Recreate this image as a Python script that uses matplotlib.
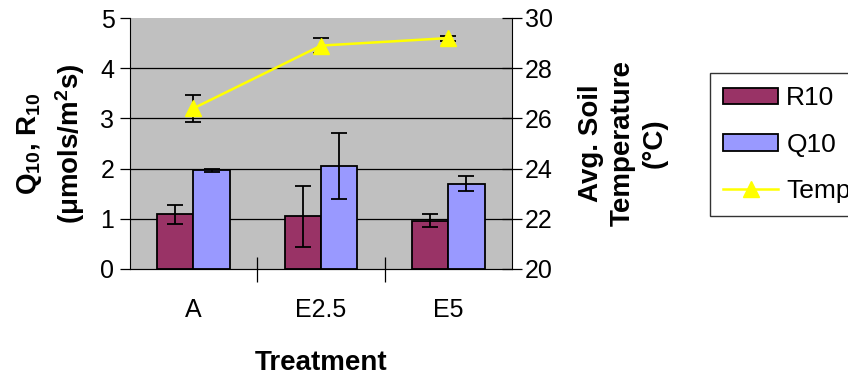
import matplotlib.pyplot as plt
import numpy as np

plt.rcParams['font.family'] = ['Liberation Sans', 'DejaVu Sans']
plt.rcParams['mathtext.fontset'] = 'custom'
plt.rcParams['mathtext.rm'] = 'Liberation Sans:bold'
plt.rcParams['mathtext.it'] = 'Liberation Sans:bold'
plt.rcParams['mathtext.bf'] = 'Liberation Sans:bold'
plt.rcParams['mathtext.default'] = 'rm'

treatments = ['A', 'E2.5', 'E5']
r10 = [1.09, 1.05, 0.96]
r10_err = [0.19, 0.61, 0.13]
q10 = [1.97, 2.05, 1.70]
q10_err = [0.03, 0.66, 0.15]
temp = [26.4, 28.9, 29.2]
temp_err = [0.55, 0.3, 0.1]

fig = plt.figure(figsize=(8.48, 3.75), dpi=100)
ax = fig.add_axes([0.153, 0.283, 0.451, 0.669])
ax.set_facecolor('#C0C0C0')

x = np.arange(len(treatments))
w = 0.283
ax.bar(x - w / 2, r10, w, color='#993366', edgecolor='black', linewidth=1.3,
       label='R10', zorder=3)
ax.bar(x + w / 2, q10, w, color='#9999FF', edgecolor='black', linewidth=1.3,
       label='Q10', zorder=3)
ax.errorbar(x - w / 2, r10, yerr=r10_err, fmt='none', ecolor='black',
            elinewidth=1.3, capsize=6, capthick=1.3, zorder=4)
ax.errorbar(x + w / 2, q10, yerr=q10_err, fmt='none', ecolor='black',
            elinewidth=1.3, capsize=6, capthick=1.3, zorder=4)

ax.set_xlim(-0.5, 2.5)
ax.set_ylim(0, 5)
ax.set_yticks(range(6))
for yv in range(1, 5):
    ax.axhline(yv, color='black', linewidth=0.9, zorder=1)
ax.set_xticks(x)
ax.set_xticklabels(treatments)
ax.set_xticks([0.5, 1.5], minor=True)
ax.tick_params(axis='x', which='major', length=0, pad=21, labelsize=18)
ax.tick_params(axis='x', which='minor', direction='inout', length=18, width=0.9)
ax.tick_params(axis='y', direction='out', length=7, width=0.9, labelsize=18, pad=4)
ax.spines['top'].set_visible(False)
ax.spines['right'].set_visible(False)
ax.set_xlabel('Treatment', fontsize=20, fontweight='bold', labelpad=20)
ax.set_ylabel('Q$_{10}$, R$_{10}$\n(\u03bcmols/m$^2$s)', fontsize=20,
              fontweight='bold', labelpad=10, linespacing=1.35)

ax2 = ax.twinx()
ax2.set_facecolor('none')
ax2.errorbar(x, temp, yerr=temp_err, fmt='none', ecolor='black',
             elinewidth=1.3, capsize=6, capthick=1.3, zorder=4)
ax2.plot(x, temp, color='#FFFF00', linewidth=1.8, marker='^', markersize=11,
         label='Temp', zorder=5)
ax2.set_ylim(20, 30)
ax2.set_yticks(range(20, 31, 2))
ax2.tick_params(axis='y', direction='inout', length=14, width=0.9, labelsize=18, pad=2)
ax2.spines['top'].set_visible(False)
ax2.spines['left'].set_visible(False)
ax2.set_ylabel('Avg. Soil\nTemperature\n(\u00b0C)', fontsize=20, fontweight='bold',
               rotation=90, labelpad=18, linespacing=1.3)

h1, l1 = ax.get_legend_handles_labels()
h2, l2 = ax2.get_legend_handles_labels()
fig.legend(h1 + h2, l1 + l2, loc='upper left', bbox_to_anchor=(0.837, 0.805),
           fontsize=19, frameon=True, fancybox=False, edgecolor='black',
           handlelength=2.1, handleheight=0.6, labelspacing=0.85,
           borderpad=0.5, handletextpad=0.3, borderaxespad=0)

fig.savefig('out.png', dpi=100)
